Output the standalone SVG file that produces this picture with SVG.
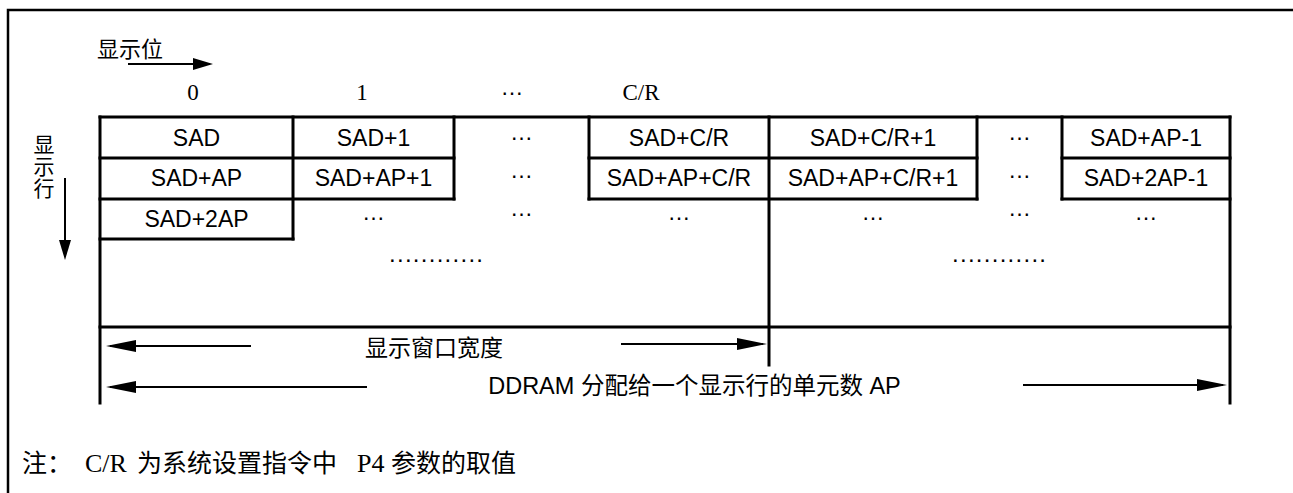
<svg xmlns="http://www.w3.org/2000/svg" width="1293" height="493" viewBox="0 0 1293 493">
  <style>
    .grid { fill: none; stroke: #000; stroke-width: 3; stroke-linecap: square; }
    .frame { fill: none; stroke: #000; stroke-width: 2.5; }
    .conn { fill: none; stroke: #000; stroke-width: 2; }
    .cell { font-family: "Liberation Sans", Arial, sans-serif; font-size: 23px; fill: #000; text-anchor: middle; }
    .num { font-family: "Liberation Serif", "Times New Roman", serif; font-size: 23px; fill: #000; text-anchor: middle; }
    .cjk { font-family: "Noto Sans CJK SC", "Liberation Sans", sans-serif; font-size: 22px; fill: #000; }
    .mix { font-family: "Liberation Sans", "Noto Sans CJK SC", sans-serif; font-size: 23.5px; fill: #000; }
    .ser { font-family: "Liberation Serif", "Noto Sans CJK SC", serif; font-size: 26px; fill: #000; }
    .nc { font-family: "Noto Sans CJK SC", sans-serif; font-size: 25px; }
    .dots { font-family: "Liberation Sans", Arial, sans-serif; font-size: 24px; fill: #000; }
  </style>
  <defs>
    <marker id="big" markerUnits="userSpaceOnUse" markerWidth="30" markerHeight="12" refX="26" refY="6" orient="auto">
      <path d="M0,0 L30,6 L0,12 Z" fill="#000"/>
    </marker>
    <marker id="small" markerUnits="userSpaceOnUse" markerWidth="20" markerHeight="12" refX="17" refY="6" orient="auto">
      <path d="M0,0 L20,6 L0,12 Z" fill="#000"/>
    </marker>
  </defs>

  <rect width="1293" height="493" fill="#fff"/>
  <path class="frame" d="M8,493 V10 H1293"/>

  <g id="grid" class="grid">
    <path d="M100,117 H1230 M100,158 H454 M589,158 H977 M1062,158 H1230 M100,199 H454 M589,199 H977 M1062,199 H1230 M100,239 H293 M100,327 H1230"/>
    <path d="M100,117 V403 M293,117 V239 M454,117 V199 M589,117 V199 M769,117 V365 M977,117 V199 M1062,117 V199 M1230,117 V403"/>
  </g>

  <g id="axis-labels">
    <text class="cjk" x="97" y="57">显示位</text>
    <text class="cjk" x="44" y="134" style="writing-mode: vertical-rl; letter-spacing: 1px; font-size: 21px">显示行</text>
    <text class="num" x="193" y="100">0</text>
    <text class="num" x="362" y="100">1</text>
    <text class="cell" x="512" y="95">…</text>
    <text class="num" x="641" y="100">C/R</text>
  </g>

  <g id="row1">
    <text id="c-sad" class="cell" x="196.5" y="145.7">SAD</text>
    <text id="c-sad1" class="cell" x="373.5" y="145.7">SAD+1</text>
    <text class="cell" x="521.5" y="139.5">…</text>
    <text id="c-sadcr" class="cell" x="679" y="145.7">SAD+C/R</text>
    <text id="c-sadcr1" class="cell" x="873" y="145.7">SAD+C/R+1</text>
    <text class="cell" x="1019.5" y="139.5">…</text>
    <text id="c-sadap-1" class="cell" x="1146" y="145.7">SAD+AP-1</text>
  </g>
  <g id="row2">
    <text id="c-sadap" class="cell" x="196.5" y="185.7">SAD+AP</text>
    <text id="c-sadap1" class="cell" x="373.5" y="185.7">SAD+AP+1</text>
    <text class="cell" x="521.5" y="177.5">…</text>
    <text id="c-sadapcr" class="cell" x="679" y="185.7">SAD+AP+C/R</text>
    <text id="c-sadapcr1" class="cell" x="873" y="185.7">SAD+AP+C/R+1</text>
    <text class="cell" x="1019.5" y="177.5">…</text>
    <text id="c-sad2ap-1" class="cell" x="1146" y="185.7">SAD+2AP-1</text>
  </g>
  <g id="row3">
    <text id="c-sad2ap" class="cell" x="196.5" y="226.5">SAD+2AP</text>
    <text class="cell" x="373.5" y="219.5">…</text>
    <text class="cell" x="521.5" y="215.5">…</text>
    <text class="cell" x="679" y="219.5">…</text>
    <text class="cell" x="873" y="219.5">…</text>
    <text class="cell" x="1019.5" y="215.5">…</text>
    <text class="cell" x="1146" y="219.5">…</text>
  </g>
  <g id="more-rows">
    <text class="dots" x="389" y="261.5" textLength="94" lengthAdjust="spacing">............</text>
    <text class="dots" x="952" y="261.5" textLength="94" lengthAdjust="spacing">............</text>
  </g>

  <g id="connectors">
    <line class="conn" x1="128" y1="64" x2="210" y2="64" marker-end="url(#small)"/>
    <line class="conn" x1="65" y1="178" x2="65" y2="257" marker-end="url(#small)"/>
    <line class="conn" x1="251" y1="346" x2="110" y2="346" marker-end="url(#big)"/>
    <line class="conn" x1="621" y1="344" x2="763" y2="344" marker-end="url(#big)"/>
    <line class="conn" x1="367" y1="387" x2="110" y2="387" marker-end="url(#big)"/>
    <line class="conn" x1="1023" y1="385" x2="1223" y2="385" marker-end="url(#big)"/>
  </g>

  <g id="width-labels">
    <text class="cjk" x="434" y="356" text-anchor="middle" style="font-size:23px">显示窗口宽度</text>
    <text class="mix" x="694.5" y="394" text-anchor="middle">DDRAM 分配给一个显示行的单元数 AP</text>
  </g>

  <g id="note">
    <text class="ser" y="472"><tspan class="nc" x="22">注：</tspan><tspan x="85">C/R</tspan><tspan class="nc" x="137">为系统设置指令中</tspan><tspan x="357">P4</tspan><tspan class="nc" x="391">参数的取值</tspan></text>
  </g>
</svg>
